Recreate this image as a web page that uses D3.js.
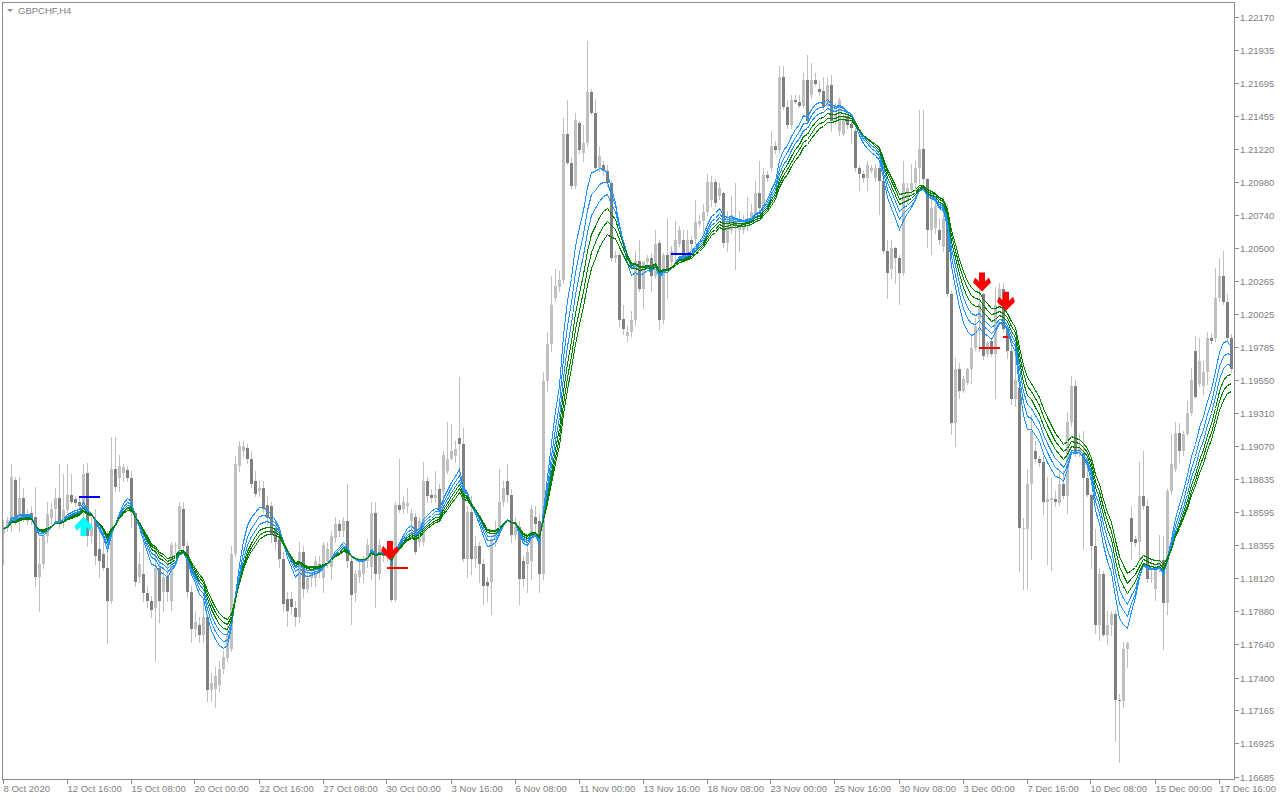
<!DOCTYPE html>
<html><head><meta charset="utf-8"><title>GBPCHF,H4</title>
<script src="https://cdn.jsdelivr.net/npm/d3@7/dist/d3.min.js"></script>
<style>
html,body{margin:0;padding:0;background:#fff;}
svg{display:block;}
.lbl{font-family:"Liberation Sans",Arial,sans-serif;font-size:9.5px;fill:#808080;}
</style></head><body>
<svg id="chart" width="1280" height="800"></svg>
<script>
// ---- DATA (GBPCHF, H4) ----
const symbol = "GBPCHF,H4";
const opens = [
1.1844,1.1848,1.1853,1.1883,1.1853,1.1870,1.1853,1.1859,1.1856,1.1813,
1.1822,1.1842,1.1855,1.1862,1.1870,1.1853,1.1861,1.1872,1.1869,1.1867,
1.1860,1.1888,1.1842,1.1853,1.1833,1.1829,1.1819,1.1795,1.1891,1.1884,
1.1888,1.1890,1.1884,1.1859,1.1813,1.1815,1.1801,1.1795,1.1790,1.1819,
1.1802,1.1813,1.1795,1.1835,1.1833,1.1862,1.1835,1.1802,1.1775,1.1778,
1.1771,1.1784,1.1731,1.1732,1.1735,1.1746,1.1754,1.1761,1.1829,1.1893,
1.1904,1.1906,1.1898,1.1882,1.1875,1.1877,1.1865,1.1864,1.1848,1.1840,
1.1826,1.1797,1.1797,1.1790,1.1784,1.1831,1.1804,1.1812,1.1812,1.1822,
1.1812,1.1824,1.1820,1.1841,1.1851,1.1846,1.1853,1.1824,1.1801,1.1813,
1.1815,1.1824,1.1820,1.1859,1.1815,1.1831,1.1827,1.1828,1.1796,1.1865,
1.1862,1.1864,1.1853,1.1856,1.1838,1.1838,1.1882,1.1872,1.1870,1.1876,
1.1875,1.1889,1.1898,1.1900,1.1913,1.1909,1.1826,1.1860,1.1826,1.1835,
1.1822,1.1809,1.1809,1.1840,1.1847,1.1867,1.1882,1.1872,1.1843,1.1849,
1.1824,1.1822,1.1824,1.1856,1.1853,1.1815,1.1954,1.1981,1.2014,1.2022,
1.2027,1.2133,1.2112,1.2095,1.2141,1.2119,1.2126,1.2163,1.2148,1.2108,
1.2110,1.2106,1.2097,1.2043,1.2045,1.1999,1.1987,1.1990,1.1998,1.2041,
1.2021,1.2040,1.2043,1.2030,1.2054,1.1998,1.2045,1.2040,1.2047,1.2053,
1.2056,1.2043,1.2056,1.2057,1.2068,1.2070,1.2076,1.2085,1.2098,1.2088,
1.2090,1.2054,1.2063,1.2070,1.2063,1.2063,1.2068,1.2070,1.2075,1.2090,
1.2079,1.2103,1.2108,1.2124,1.2121,1.2174,1.2152,1.2139,1.2157,1.2156,
1.2153,1.2172,1.2161,1.2172,1.2165,1.2164,1.2153,1.2168,1.2142,1.2135,
1.2133,1.2146,1.2140,1.2135,1.2108,1.2104,1.2101,1.2106,1.2101,1.2108,
1.2099,1.2048,1.2035,1.2050,1.2043,1.2032,1.2086,1.2092,1.2097,1.2108,
1.2122,1.2100,1.2063,1.2065,1.2063,1.2051,1.2074,1.2017,1.1924,1.1963,
1.1947,1.1953,1.1963,1.1978,1.1999,1.2017,1.1974,1.1983,1.1974,1.2009,
1.2021,1.1992,1.1976,1.1941,1.1949,1.1847,1.1847,1.1880,1.1904,1.1898,
1.1896,1.1867,1.1868,1.1869,1.1866,1.1880,1.1871,1.1925,1.1951,1.1902,
1.1902,1.1884,1.1872,1.1835,1.1778,1.1815,1.1771,1.1778,1.1786,1.1724,
1.1723,1.1761,1.1855,1.1840,1.1838,1.1871,1.1864,1.1812,1.1804,1.1819,
1.1825,1.1794,1.1875,1.1891,1.1917,1.1904,1.1916,1.1931,1.1976,1.1952,
1.1951,1.1961,1.1985,1.1985,1.2014,1.2030,1.2011,1.1985];
const highs = [
1.1854,1.1856,1.1894,1.1885,1.1885,1.1877,1.1862,1.1864,1.1878,1.1841,
1.1843,1.1867,1.1866,1.1877,1.1894,1.1887,1.1894,1.1887,1.1871,1.1870,
1.1894,1.1895,1.1856,1.1862,1.1847,1.1846,1.1846,1.1914,1.1914,1.1901,
1.1894,1.1893,1.1889,1.1860,1.1831,1.1838,1.1806,1.1799,1.1835,1.1829,
1.1820,1.1824,1.1838,1.1838,1.1867,1.1867,1.1838,1.1806,1.1788,1.1784,
1.1795,1.1786,1.1743,1.1748,1.1752,1.1759,1.1777,1.1835,1.1900,1.1911,
1.1911,1.1909,1.1904,1.1889,1.1882,1.1882,1.1871,1.1867,1.1853,1.1846,
1.1831,1.1802,1.1802,1.1795,1.1838,1.1835,1.1817,1.1820,1.1828,1.1828,
1.1838,1.1838,1.1846,1.1856,1.1854,1.1856,1.1880,1.1828,1.1818,1.1824,
1.1828,1.1840,1.1867,1.1867,1.1840,1.1835,1.1833,1.1829,1.1867,1.1898,
1.1871,1.1877,1.1862,1.1859,1.1856,1.1896,1.1885,1.1876,1.1889,1.1880,
1.1904,1.1925,1.1923,1.1911,1.1957,1.1920,1.1864,1.1871,1.1842,1.1838,
1.1826,1.1813,1.1843,1.1853,1.1891,1.1882,1.1894,1.1876,1.1856,1.1853,
1.1828,1.1838,1.1865,1.1864,1.1858,1.1961,1.1990,1.2030,1.2035,1.2034,
1.2144,1.2157,1.2116,1.2148,1.2142,1.2139,1.2200,1.2165,1.2158,1.2123,
1.2113,1.2110,1.2099,1.2048,1.2047,1.2009,1.1995,1.2005,1.2048,1.2056,
1.2041,1.2045,1.2047,1.2063,1.2056,1.2047,1.2072,1.2052,1.2070,1.2066,
1.2063,1.2063,1.2059,1.2085,1.2074,1.2082,1.2104,1.2102,1.2100,1.2097,
1.2091,1.2077,1.2088,1.2097,1.2077,1.2074,1.2087,1.2082,1.2099,1.2113,
1.2108,1.2106,1.2135,1.2128,1.2182,1.2182,1.2157,1.2161,1.2161,1.2161,
1.2177,1.2190,1.2184,1.2177,1.2171,1.2174,1.2173,1.2175,1.2155,1.2159,
1.2148,1.2148,1.2146,1.2137,1.2110,1.2106,1.2113,1.2110,1.2111,1.2111,
1.2113,1.2056,1.2056,1.2051,1.2045,1.2113,1.2097,1.2111,1.2113,1.2150,
1.2150,1.2101,1.2090,1.2087,1.2072,1.2087,1.2082,1.2019,1.1971,1.1967,
1.1958,1.1964,1.1988,1.2000,1.2025,1.2018,1.1983,1.1985,1.2022,1.2025,
1.2025,1.1994,1.1990,1.1976,1.1958,1.1855,1.1891,1.1930,1.1911,1.1900,
1.1900,1.1885,1.1884,1.1875,1.1889,1.1889,1.1932,1.1958,1.1955,1.1916,
1.1918,1.1904,1.1873,1.1847,1.1819,1.1817,1.1788,1.1788,1.1788,1.1728,
1.1766,1.1766,1.1864,1.1842,1.1896,1.1904,1.1869,1.1826,1.1822,1.1843,
1.1842,1.1876,1.1916,1.1925,1.1924,1.1918,1.1940,1.1964,1.1987,1.1985,
1.1969,1.1990,1.1989,1.2036,1.2043,1.2048,1.2017,1.1988];
const lows = [
1.1822,1.1846,1.1846,1.1851,1.1846,1.1853,1.1851,1.1851,1.1806,1.1788,
1.1819,1.1838,1.1851,1.1853,1.1848,1.1849,1.1860,1.1866,1.1864,1.1862,
1.1846,1.1835,1.1838,1.1822,1.1813,1.1818,1.1765,1.1794,1.1875,1.1875,
1.1882,1.1882,1.1849,1.1806,1.1809,1.1795,1.1791,1.1784,1.1752,1.1780,
1.1788,1.1795,1.1789,1.1831,1.1830,1.1830,1.1798,1.1766,1.1770,1.1766,
1.1766,1.1723,1.1723,1.1719,1.1730,1.1743,1.1752,1.1759,1.1828,1.1889,
1.1900,1.1895,1.1878,1.1871,1.1871,1.1860,1.1851,1.1838,1.1833,1.1820,
1.1788,1.1777,1.1786,1.1777,1.1780,1.1798,1.1802,1.1806,1.1806,1.1813,
1.1802,1.1820,1.1811,1.1838,1.1842,1.1842,1.1820,1.1779,1.1795,1.1809,
1.1809,1.1820,1.1811,1.1791,1.1811,1.1824,1.1824,1.1795,1.1795,1.1860,
1.1859,1.1860,1.1843,1.1829,1.1835,1.1836,1.1867,1.1867,1.1867,1.1859,
1.1867,1.1888,1.1898,1.1896,1.1887,1.1824,1.1813,1.1815,1.1820,1.1809,
1.1793,1.1795,1.1786,1.1835,1.1843,1.1864,1.1867,1.1838,1.1840,1.1793,
1.1806,1.1802,1.1811,1.1846,1.1802,1.1811,1.1947,1.1976,1.2012,1.2019,
1.2025,1.2111,1.2094,1.2094,1.2119,1.2113,1.2124,1.2147,1.2106,1.2106,
1.2103,1.2095,1.2041,1.2040,1.1994,1.1988,1.1983,1.1987,1.1995,1.2019,
1.2007,1.2037,1.2019,1.2029,1.1992,1.1996,1.2014,1.2037,1.2040,1.2052,
1.2041,1.2041,1.2048,1.2053,1.2066,1.2061,1.2074,1.2081,1.2081,1.2086,
1.2051,1.2048,1.2061,1.2035,1.2048,1.2061,1.2063,1.2069,1.2069,1.2076,
1.2077,1.2099,1.2106,1.2119,1.2119,1.2151,1.2137,1.2137,1.2155,1.2152,
1.2152,1.2141,1.2159,1.2168,1.2161,1.2151,1.2151,1.2135,1.2140,1.2132,
1.2132,1.2137,1.2126,1.2106,1.2092,1.2098,1.2092,1.2105,1.2099,1.2075,
1.2047,1.2014,1.2029,1.2025,1.2010,1.2031,1.2082,1.2090,1.2092,1.2097,
1.2097,1.2051,1.2046,1.2061,1.2053,1.2048,1.2016,1.1916,1.1907,1.1942,
1.1946,1.1952,1.1953,1.1977,1.1976,1.1970,1.1972,1.1972,1.1942,1.2007,
1.1990,1.1971,1.1938,1.1936,1.1817,1.1804,1.1804,1.1826,1.1896,1.1893,
1.1858,1.1822,1.1818,1.1864,1.1865,1.1870,1.1859,1.1922,1.1900,1.1900,
1.1833,1.1871,1.1819,1.1772,1.1767,1.1770,1.1764,1.1771,1.1694,1.1679,
1.1719,1.1748,1.1826,1.1835,1.1826,1.1862,1.1809,1.1809,1.1796,1.1817,
1.1761,1.1786,1.1873,1.1889,1.1896,1.1901,1.1915,1.1930,1.1942,1.1951,
1.1945,1.1952,1.1982,1.1983,1.2012,1.2010,1.1983,1.1961];
const closes = [
1.1848,1.1854,1.1885,1.1853,1.1870,1.1856,1.1858,1.1854,1.1813,1.1822,
1.1842,1.1858,1.1862,1.1870,1.1851,1.1861,1.1872,1.1867,1.1866,1.1864,
1.1887,1.1842,1.1849,1.1828,1.1824,1.1819,1.1795,1.1891,1.1878,1.1893,
1.1892,1.1884,1.1860,1.1809,1.1822,1.1801,1.1795,1.1789,1.1819,1.1795,
1.1813,1.1802,1.1836,1.1836,1.1864,1.1835,1.1802,1.1775,1.1780,1.1771,
1.1784,1.1731,1.1736,1.1741,1.1746,1.1755,1.1771,1.1829,1.1894,1.1907,
1.1907,1.1898,1.1880,1.1873,1.1877,1.1862,1.1855,1.1844,1.1838,1.1826,
1.1793,1.1788,1.1791,1.1784,1.1831,1.1804,1.1812,1.1815,1.1824,1.1817,
1.1836,1.1833,1.1842,1.1851,1.1846,1.1853,1.1824,1.1800,1.1815,1.1818,
1.1825,1.1836,1.1859,1.1815,1.1836,1.1828,1.1829,1.1796,1.1865,1.1861,
1.1867,1.1866,1.1859,1.1831,1.1853,1.1882,1.1871,1.1870,1.1872,1.1860,
1.1901,1.1898,1.1904,1.1905,1.1909,1.1826,1.1860,1.1826,1.1835,1.1822,
1.1806,1.1806,1.1840,1.1847,1.1867,1.1877,1.1872,1.1843,1.1849,1.1811,
1.1811,1.1831,1.1862,1.1851,1.1815,1.1954,1.1981,1.2009,1.2023,1.2027,
1.2133,1.2112,1.2095,1.2143,1.2121,1.2126,1.2163,1.2148,1.2108,1.2117,
1.2106,1.2097,1.2043,1.2045,1.1998,1.1992,1.1990,1.1998,1.2041,1.2021,
1.2040,1.2043,1.2030,1.2053,1.1998,1.2045,1.2035,1.2048,1.2056,1.2063,
1.2043,1.2056,1.2053,1.2069,1.2070,1.2076,1.2098,1.2098,1.2083,1.2094,
1.2054,1.2069,1.2074,1.2066,1.2068,1.2070,1.2072,1.2076,1.2090,1.2079,
1.2103,1.2101,1.2124,1.2121,1.2174,1.2152,1.2139,1.2157,1.2156,1.2153,
1.2172,1.2142,1.2172,1.2169,1.2163,1.2152,1.2168,1.2142,1.2147,1.2157,
1.2146,1.2139,1.2137,1.2108,1.2104,1.2101,1.2110,1.2108,1.2108,1.2099,
1.2048,1.2032,1.2050,1.2043,1.2032,1.2097,1.2094,1.2097,1.2108,1.2122,
1.2100,1.2063,1.2079,1.2081,1.2056,1.2072,1.2017,1.1924,1.1963,1.1947,
1.1956,1.1963,1.1978,1.1994,1.2010,1.1972,1.1982,1.1974,1.2009,1.2021,
1.1992,1.1976,1.1941,1.1955,1.1848,1.1848,1.1880,1.1918,1.1898,1.1895,
1.1867,1.1869,1.1870,1.1867,1.1880,1.1871,1.1925,1.1951,1.1902,1.1906,
1.1884,1.1872,1.1835,1.1778,1.1815,1.1771,1.1778,1.1786,1.1724,1.1723,
1.1761,1.1765,1.1838,1.1837,1.1871,1.1864,1.1811,1.1812,1.1819,1.1825,
1.1794,1.1875,1.1894,1.1917,1.1904,1.1916,1.1931,1.1955,1.1943,1.1969,
1.1961,1.1985,1.1983,1.2014,1.2030,1.2011,1.1985,1.1963];

const timeLabels = ["8 Oct 2020","12 Oct 16:00","15 Oct 08:00","20 Oct 00:00","22 Oct 16:00",
  "27 Oct 08:00","30 Oct 00:00","3 Nov 16:00","6 Nov 08:00","11 Nov 00:00","13 Nov 16:00",
  "18 Nov 08:00","23 Nov 00:00","25 Nov 16:00","30 Nov 08:00","3 Dec 00:00","7 Dec 16:00",
  "10 Dec 08:00","15 Dec 00:00","17 Dec 16:00"];
const timeLabelBars = [0,16,32,48,64,80,96,112,128,144,160,176,192,208,224,240,256,272,288,304];
const priceTicks = [1.22170,1.21935,1.21695,1.21455,1.21220,1.20980,1.20740,1.20500,1.20265,
  1.20025,1.19785,1.19550,1.19310,1.19070,1.18835,1.18595,1.18355,1.18120,1.17880,1.17640,
  1.17400,1.17165,1.16925,1.16685];
const priceMin = 1.16685, priceMax = 1.22170;

// moving-average ribbon: periods (fast -> slow)
const fastPeriods = [9, 11, 13];
const slowPeriods = [15, 17, 19];

// signals
const buyArrowBars = [20];      const buyArrowPrices = [1.1856];
const sellArrowBars = [97, 245, 251]; const sellArrowPrices = [1.1825, 1.2019, 1.2005];
const buyLevelFrom = [19, 167];  const buyLevelTo = [24, 172];  const buyLevelPrice = [1.18705, 1.20460];
const sellLevelFrom = [96, 244, 250]; const sellLevelTo = [101, 249, 251]; const sellLevelPrice = [1.18192, 1.19781, 1.19860];

// ---- DRAWING ----
const svg = d3.select('#chart');
const F = {l: 2, t: 2, r: 1234, b: 779};
const nBars = closes.length;
const x = d3.scaleLinear().domain([0, nBars - 1]).range([3.5, 1231.5]);
const y = d3.scaleLinear().domain([priceMin, priceMax]).range([776.6, 17.3]);

svg.append('rect').attr('width', 1280).attr('height', 800).attr('fill', '#fff');
svg.append('defs').append('clipPath').attr('id', 'plot')
  .append('rect').attr('x', F.l + 1).attr('y', F.t + 1).attr('width', F.r - F.l - 1).attr('height', F.b - F.t - 1);
const plot = svg.append('g').attr('clip-path', 'url(#plot)');

const bars = d3.range(nBars).map(i => ({i, o: opens[i], h: highs[i], l: lows[i], c: closes[i]}));
const BULL = '#c0c0c0', BEAR = '#808080';

plot.append('g').selectAll('line').data(bars).join('line')
  .attr('x1', d => x(d.i)).attr('x2', d => x(d.i))
  .attr('y1', d => Math.round(y(d.h))).attr('y2', d => Math.round(y(d.l)) + 1)
  .attr('stroke', BULL).attr('stroke-width', 1).attr('shape-rendering', 'crispEdges');

plot.append('g').selectAll('rect').data(bars).join('rect')
  .attr('x', d => x(d.i) - 1.5).attr('width', 3)
  .attr('y', d => Math.round(y(Math.max(d.o, d.c))))
  .attr('height', d => Math.max(1, Math.round(y(Math.min(d.o, d.c))) - Math.round(y(Math.max(d.o, d.c)))))
  .attr('fill', d => d.c >= d.o ? BULL : BEAR).attr('shape-rendering', 'crispEdges');

function ema(src, n) {
  const a = 2 / (n + 1); const out = []; let p = src[0];
  src.forEach((v, i) => { p = i === 0 ? v : p + a * (v - p); out.push(p); });
  return out;
}
const line = d3.line().x((d, i) => x(i)).y(d => Math.round(y(d)) + 0.5);
const ribbons = [
  ...fastPeriods.map(n => ({n, color: '#1e90ff'})),
  ...slowPeriods.map(n => ({n, color: '#008000'}))
];
plot.append('g').selectAll('path').data(ribbons).join('path')
  .attr('d', d => line(ema(closes, d.n)))
  .attr('fill', 'none').attr('stroke', d => d.color).attr('stroke-width', 1)
  .attr('shape-rendering', 'crispEdges');

// level marks
const levels = [
  ...buyLevelFrom.map((f, k) => ({f, t: buyLevelTo[k], p: buyLevelPrice[k], col: '#0000ff'})),
  ...sellLevelFrom.map((f, k) => ({f, t: sellLevelTo[k], p: sellLevelPrice[k], col: '#ff0000'}))
];
plot.append('g').selectAll('rect').data(levels).join('rect')
  .attr('x', d => x(d.f) - 0.5).attr('width', d => x(d.t) - x(d.f) + 1)
  .attr('y', d => Math.round(y(d.p)) - 1).attr('height', 2)
  .attr('fill', d => d.col).attr('shape-rendering', 'crispEdges');

// arrows
const downPts = [[-3,-19],[3,-19],[3,-10],[7,-14],[9,-9],[0,0],[-9,-9],[-7,-14],[-3,-10]];
plot.append('g').selectAll('path').data(sellArrowBars.map((b, k) => ({b, p: sellArrowPrices[k]}))).join('path')
  .attr('d', d => { const cx = x(d.b) - 1.5, ty = y(d.p);
    return 'M' + downPts.map(q => [cx + q[0], ty + q[1]].join(',')).join('L') + 'Z'; })
  .attr('fill', '#ff0000');
plot.append('g').selectAll('path').data(buyArrowBars.map((b, k) => ({b, p: buyArrowPrices[k]}))).join('path')
  .attr('d', d => { const cx = x(d.b), ty = y(d.p);
    return 'M' + downPts.map(q => [cx + q[0], ty - q[1]].join(',')).join('L') + 'Z'; })
  .attr('fill', '#00ffff');

// frame
svg.append('rect').attr('x', F.l + 0.5).attr('y', F.t + 0.5)
  .attr('width', F.r - F.l).attr('height', F.b - F.t)
  .attr('fill', 'none').attr('stroke', '#8c8c8c').attr('shape-rendering', 'crispEdges');

// price axis
const pa = svg.append('g');
priceTicks.forEach(v => {
  const yy = Math.round(y(v)) + 0.5;
  pa.append('line').attr('x1', F.r + 1).attr('x2', F.r + 5).attr('y1', yy).attr('y2', yy)
    .attr('stroke', '#8c8c8c').attr('shape-rendering', 'crispEdges');
  pa.append('text').attr('class', 'lbl').attr('x', F.r + 6).attr('y', yy + 3.5).text(v.toFixed(5));
});

// time axis
const ta = svg.append('g');
timeLabelBars.forEach((b, k) => {
  const xx = Math.round(x(b)) - 0.5;
  ta.append('line').attr('x1', xx).attr('x2', xx).attr('y1', F.b + 1).attr('y2', F.b + 5)
    .attr('stroke', '#8c8c8c').attr('shape-rendering', 'crispEdges');
  ta.append('text').attr('class', 'lbl').attr('x', xx).attr('y', F.b + 13).text(timeLabels[k]);
});

// title
svg.append('path').attr('d', 'M7,9L13,9L10,12Z').attr('fill', '#8c8c8c');
svg.append('text').attr('class', 'lbl').attr('x', 18).attr('y', 14).text(symbol);
</script>
</body></html>
